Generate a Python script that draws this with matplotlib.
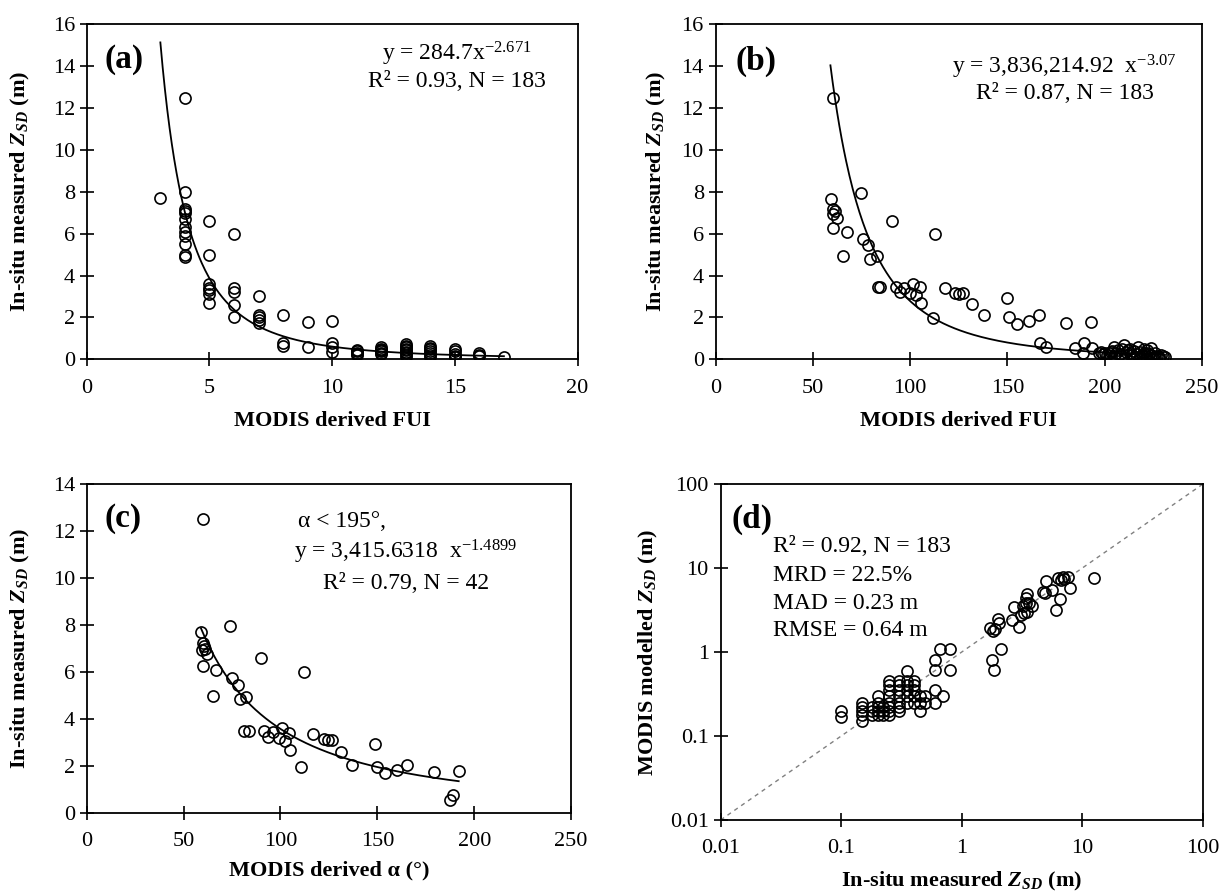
import matplotlib
matplotlib.use('Agg')
import matplotlib.pyplot as plt
import numpy as np
from matplotlib.ticker import NullLocator

plt.rcParams['font.family'] = ['Liberation Serif', 'DejaVu Serif']
plt.rcParams['mathtext.fontset'] = 'custom'
plt.rcParams['mathtext.rm'] = 'Liberation Serif'
plt.rcParams['mathtext.it'] = 'Liberation Serif:italic'
plt.rcParams['mathtext.bf'] = 'Liberation Serif:bold'
plt.rcParams['mathtext.bfit'] = 'Liberation Serif:italic:bold'

# ---- panel (a): FUI vs Zsd
a_fui = [3, 4, 4, 4, 4, 4, 4, 4, 4, 4, 4, 4, 4,
         5, 5, 5, 5, 5, 5, 5,
         6, 6, 6, 6, 6,
         7, 7, 7, 7, 7,
         8, 8, 8,
         9, 9,
         10, 10, 10, 10,
         11, 11, 11, 11, 11,
         12, 12, 12, 12, 12, 12,
         13, 13, 13, 13, 13, 13, 13, 13, 13,
         14, 14, 14, 14, 14, 14, 14,
         15, 15, 15, 15, 15,
         16, 16, 16,
         17]
a_zsd = [7.7, 12.5, 8.0, 7.2, 7.1, 7.0, 6.7, 6.3, 6.1, 5.9, 5.5, 5.0, 4.9,
         6.6, 5.0, 3.6, 3.4, 3.3, 3.1, 2.7,
         6.0, 3.4, 3.2, 2.6, 2.0,
         3.0, 2.1, 2.0, 1.9, 1.75,
         2.1, 0.8, 0.65,
         1.8, 0.57,
         1.85, 0.8, 0.6, 0.37,
         0.45, 0.4, 0.32, 0.25, 0.2,
         0.57, 0.5, 0.45, 0.38, 0.32, 0.25,
         0.72, 0.65, 0.6, 0.5, 0.45, 0.35, 0.29, 0.2, 0.13,
         0.64, 0.55, 0.48, 0.4, 0.29, 0.2, 0.13,
         0.48, 0.4, 0.25, 0.18, 0.1,
         0.29, 0.22, 0.16,
         0.13]
a_coef, a_exp = 284.7, -2.671
a_range = (3, 17)

# ---- panel (b): alpha vs Zsd (all)
b_alpha = [60.5, 59.5, 60.5, 61.2, 60.5, 62.6, 60.5, 67.4, 65.5, 74.7, 75.7, 78.4,
           79.3, 82.8, 83.3, 84.7, 90.5, 92.8, 94.8, 96.7, 100, 101.7, 103.1, 105.2,
           105.7, 112.6, 111.7, 117.8, 122.9, 125, 127.2, 132, 137.9, 149.8, 150.9,
           154.8, 160.9, 166, 166.9, 170, 180.3, 192.8, 184.7, 189.3, 189, 193.6,
           197, 198, 199, 200, 201, 202, 203, 204, 205, 206, 207, 208, 209, 210, 211,
           212, 213, 214, 215, 216, 217, 218, 219, 220, 221, 222, 223, 224, 225, 226,
           227, 228, 229, 230, 231, 209, 213, 218, 222, 226, 205, 215, 220, 224, 228]
b_zsd = [12.5, 7.65, 7.2, 7.1, 6.95, 6.75, 6.25, 6.1, 4.95, 7.95, 5.75, 5.45,
         4.8, 4.95, 3.45, 3.45, 6.6, 3.45, 3.2, 3.4, 3.15, 3.6, 3.05, 3.45,
         2.7, 6.0, 1.95, 3.4, 3.15, 3.1, 3.15, 2.65, 2.1, 2.95, 2.0,
         1.7, 1.85, 2.1, 0.8, 0.6, 1.75, 1.8, 0.55, 0.8, 0.32, 0.55,
         0.32, 0.37, 0.25, 0.3, 0.2, 0.29, 0.35, 0.4, 0.6, 0.3, 0.45, 0.25, 0.5, 0.68, 0.35,
         0.45, 0.3, 0.2, 0.4, 0.25, 0.6, 0.35, 0.2, 0.3, 0.15, 0.45, 0.25, 0.2, 0.12, 0.29,
         0.15, 0.1, 0.2, 0.16, 0.12, 0.15, 0.5, 0.15, 0.3, 0.1, 0.15, 0.1, 0.5, 0.55, 0.08]
b_coef, b_exp = 3836214.92, -3.07
b_range = (59, 231)

# ---- panel (c): alpha < 195
c_alpha = [60, 59.1, 60, 60.5, 59.3, 61, 61.9, 60, 66.7, 65, 74.1, 75.1, 78.2, 79,
           82.1, 81.1, 83.7, 89.9, 91.6, 93.6, 96.2, 99, 100.9, 102.1, 104.5, 104.8,
           112, 110.8, 117, 122.3, 124.6, 126.6, 131.1, 136.9, 149, 150, 153.8, 160,
           165.1, 179, 191.9, 189, 187.6]
c_zsd = [12.5, 7.7, 7.25, 7.1, 6.95, 7.0, 6.75, 6.25, 6.1, 5.0, 7.95, 5.75, 5.45, 4.85,
         4.95, 3.5, 3.5, 6.6, 3.5, 3.25, 3.45, 3.2, 3.6, 3.05, 3.4, 2.7,
         6.0, 1.95, 3.35, 3.15, 3.1, 3.1, 2.6, 2.05, 2.95, 1.95, 1.7, 1.85,
         2.05, 1.75, 1.8, 0.75, 0.55]
c_coef, c_exp = 3415.6318, -1.4899
c_range = (59, 192)

# ---- panel (d): measured vs modelled
d_meas = [0.1, 0.1, 0.15, 0.15, 0.15, 0.15, 0.15, 0.18, 0.18, 0.18,
          0.2, 0.2, 0.2, 0.2, 0.2, 0.22, 0.22, 0.22,
          0.25, 0.25, 0.25, 0.25, 0.25, 0.25, 0.25, 0.25,
          0.3, 0.3, 0.3, 0.3, 0.3, 0.3, 0.3,
          0.35, 0.35, 0.35, 0.35, 0.35, 0.35,
          0.4, 0.4, 0.4, 0.4, 0.4, 0.45, 0.45, 0.45, 0.5, 0.5, 0.6, 0.6, 0.7,
          0.6, 0.6, 0.66, 0.8, 0.8,
          1.7, 1.83, 1.9, 2.0, 2.05, 2.1, 1.78, 1.84,
          2.7, 2.6, 3.0, 3.1, 3.2, 3.5, 3.4, 3.4, 3.8, 3.6, 3.5, 3.3,
          4.86, 5.0, 5.6, 4.7, 6.0, 6.5, 6.3, 6.9, 7.6, 7.1, 6.7, 7.95, 12.5]
d_model = [0.2, 0.17, 0.25, 0.22, 0.2, 0.18, 0.15, 0.2, 0.22, 0.18,
           0.3, 0.25, 0.22, 0.2, 0.18, 0.22, 0.2, 0.18,
           0.45, 0.4, 0.35, 0.3, 0.25, 0.22, 0.2, 0.18,
           0.45, 0.4, 0.35, 0.3, 0.25, 0.22, 0.2,
           0.6, 0.45, 0.4, 0.35, 0.3, 0.25,
           0.45, 0.4, 0.35, 0.3, 0.25, 0.3, 0.25, 0.2, 0.3, 0.25, 0.35, 0.25, 0.3,
           0.8, 0.61, 1.1, 1.1, 0.61,
           1.95, 1.78, 1.9, 2.5, 2.2, 1.1, 0.8, 0.61,
           3.4, 2.4, 2.0, 2.75, 3.5, 4.9, 4.4, 3.8, 3.5, 3.8, 3.0, 2.9,
           5.0, 7.06, 5.47, 5.2, 3.16, 4.24, 7.7, 7.9, 7.9, 7.3, 7.1, 5.8, 7.7]

zsd_label = r'In-situ measured $\mathbfit{Z}_{\mathbfit{SD}}$ (m)'
tick_fs = 16
label_fs = 16
note_fs = 17
tag_fs = 24

mk = dict(linestyle='none', marker='o', markerfacecolor='none',
          markeredgecolor='black', markersize=8, markeredgewidth=1.2)


def style(ax):
    for s in ax.spines.values():
        s.set_linewidth(1.3)
    ax.tick_params(direction='inout', length=10, width=1.2, labelsize=tick_fs,
                   top=False, right=False)
    ax.tick_params(axis='x', pad=9)


def power_curve(ax, coef, exp, rng):
    xx = np.linspace(rng[0], rng[1], 300)
    ax.plot(xx, coef * xx ** exp, color='black', lw=1.3)


fig = plt.figure(figsize=(12.2, 8.94), dpi=100)

# (a)
ax = fig.add_axes([0.0711, 0.5981, 0.4023, 0.3747])
ax.plot(a_fui, a_zsd, **mk)
power_curve(ax, a_coef, a_exp, a_range)
ax.set_xlim(0, 20)
ax.set_ylim(0, 16)
ax.set_xticks(np.arange(0, 21, 5))
ax.set_yticks(np.arange(0, 17, 2))
style(ax)
ax.set_xlabel('MODIS derived FUI', fontsize=label_fs, fontweight='bold')
ax.set_ylabel(zsd_label, fontsize=label_fs, fontweight='bold')
ax.xaxis.set_label_coords(0.5, -0.155)
ax.yaxis.set_label_coords(-0.112, 0.5)
ax.text(0.037, 0.895, '(a)', transform=ax.transAxes, fontsize=tag_fs,
        fontweight='bold', va='center', ha='left')
ax.text(0.754, 0.912, r'y = 284.7x$^{-2.671}$', transform=ax.transAxes,
        fontsize=note_fs, ha='center', va='center')
ax.text(0.754, 0.828, 'R² = 0.93, N = 183', transform=ax.transAxes,
        fontsize=note_fs, ha='center', va='center')

# (b)
ax = fig.add_axes([0.5866, 0.5981, 0.3986, 0.3747])
ax.plot(b_alpha, b_zsd, **mk)
power_curve(ax, b_coef, b_exp, b_range)
ax.set_xlim(0, 250)
ax.set_ylim(0, 16)
ax.set_xticks(np.arange(0, 251, 50))
ax.set_yticks(np.arange(0, 17, 2))
style(ax)
ax.set_xlabel('MODIS derived FUI', fontsize=label_fs, fontweight='bold')
ax.set_ylabel(zsd_label, fontsize=label_fs, fontweight='bold')
ax.xaxis.set_label_coords(0.5, -0.155)
ax.yaxis.set_label_coords(-0.098, 0.5)
ax.text(0.04, 0.888, '(b)', transform=ax.transAxes, fontsize=tag_fs,
        fontweight='bold', va='center', ha='left')
ax.text(0.718, 0.873, r'y = 3,836,214.92  x$^{-3.07}$', transform=ax.transAxes,
        fontsize=note_fs, ha='center', va='center')
ax.text(0.718, 0.794, 'R² = 0.87, N = 183', transform=ax.transAxes,
        fontsize=note_fs, ha='center', va='center')

# (c)
ax = fig.add_axes([0.0711, 0.0906, 0.3970, 0.3680])
ax.plot(c_alpha, c_zsd, **mk)
power_curve(ax, c_coef, c_exp, c_range)
ax.set_xlim(0, 250)
ax.set_ylim(0, 14)
ax.set_xticks(np.arange(0, 251, 50))
ax.set_yticks(np.arange(0, 15, 2))
style(ax)
ax.set_xlabel('MODIS derived α (°)', fontsize=label_fs, fontweight='bold')
ax.set_ylabel(zsd_label, fontsize=label_fs, fontweight='bold')
ax.xaxis.set_label_coords(0.5, -0.145)
ax.yaxis.set_label_coords(-0.113, 0.5)
ax.text(0.037, 0.894, '(c)', transform=ax.transAxes, fontsize=tag_fs,
        fontweight='bold', va='center', ha='left')
ax.text(0.437, 0.885, 'α < 195°,', transform=ax.transAxes,
        fontsize=note_fs, ha='left', va='center')
ax.text(0.659, 0.794, r'y = 3,415.6318  x$^{-1.4899}$', transform=ax.transAxes,
        fontsize=note_fs, ha='center', va='center')
ax.text(0.659, 0.698, 'R² = 0.79, N = 42', transform=ax.transAxes,
        fontsize=note_fs, ha='center', va='center')

# (d)
ax = fig.add_axes([0.5907, 0.0828, 0.3953, 0.3758])
ax.plot([0.01, 100], [0.01, 100], color='gray', lw=1.0, ls=(0, (3, 3)))
ax.plot(d_meas, d_model, **mk)
ax.set_xscale('log')
ax.set_yscale('log')
ax.set_xlim(0.01, 100)
ax.set_ylim(0.01, 100)
dticks = [0.01, 0.1, 1, 10, 100]
dlabels = ['0.01', '0.1', '1', '10', '100']
ax.set_xticks(dticks, dlabels)
ax.set_yticks(dticks, dlabels)
ax.xaxis.set_minor_locator(NullLocator())
ax.yaxis.set_minor_locator(NullLocator())
style(ax)
ax.set_xlabel(zsd_label, fontsize=label_fs, fontweight='bold')
ax.set_ylabel(r'MODIS modelled $\mathbfit{Z}_{\mathbfit{SD}}$ (m)',
              fontsize=label_fs, fontweight='bold')
ax.xaxis.set_label_coords(0.5, -0.15)
ax.yaxis.set_label_coords(-0.126, 0.5)
ax.text(0.023, 0.895, '(d)', transform=ax.transAxes, fontsize=tag_fs,
        fontweight='bold', va='center', ha='left')
d_notes = ['R² = 0.92, N = 183', 'MRD = 22.5%', 'MAD = 0.23 m', 'RMSE = 0.64 m']
for txt, yy in zip(d_notes, [0.813, 0.729, 0.645, 0.5625]):
    ax.text(0.108, yy, txt, transform=ax.transAxes, fontsize=note_fs,
            ha='left', va='center')

fig.savefig('out.png', dpi=100)
